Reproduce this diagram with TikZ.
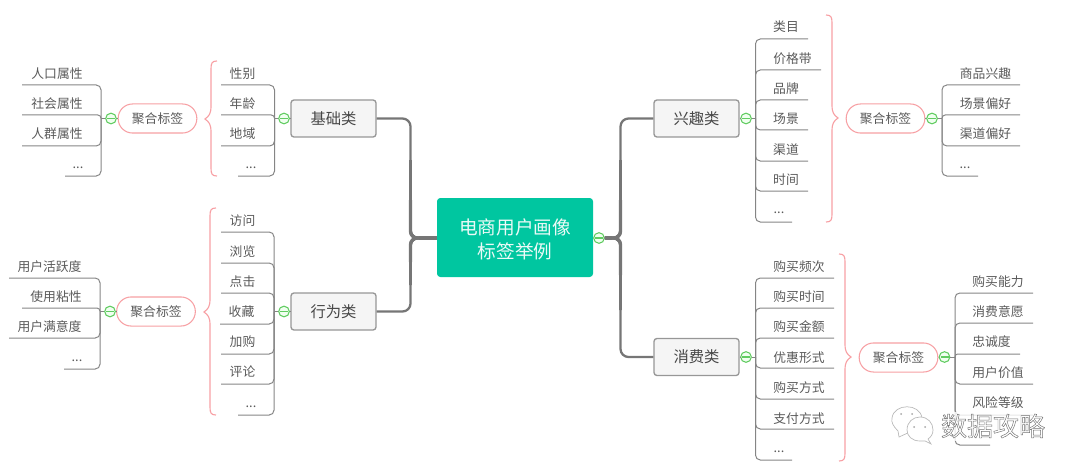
\documentclass[tikz,border=0pt]{standalone}
\usepackage{fontspec}
\setmainfont{Noto Sans CJK SC}
\usetikzlibrary{calc}
\definecolor{txt}{HTML}{5A5A5A}
\definecolor{lin}{HTML}{858585}
\definecolor{trunkc}{HTML}{767676}
\definecolor{pinkc}{HTML}{F7A0A4}
\definecolor{greenc}{HTML}{62CC62}
\definecolor{rootc}{RGB}{0,198,160}
\newcommand{\ddd}{...}
\tikzset{
  x=0.75pt,y=-0.75pt,
  leaftext/.style={text=txt,font=\fontsize{9.6pt}{11pt}\selectfont,inner sep=0pt},
  catbox/.style={draw=lin!85,line width=1pt,fill=black!4,rounded corners=2.2pt,minimum width=63.75pt,minimum height=27.75pt,inner sep=0pt,text=black!72,font=\fontsize{11.5pt}{13pt}\selectfont},
  pill/.style={draw=pinkc,line width=0.8pt,fill=white,rounded corners=10.8pt,minimum width=59pt,minimum height=21.8pt,inner sep=0pt,text=txt,font=\fontsize{9.6pt}{11pt}\selectfont},
  fold/.style={circle,draw=greenc,line width=0.8pt,fill=green!6,minimum size=8pt,inner sep=0pt,
    path picture={\draw[greenc,line width=0.9pt] ([xshift=1pt]path picture bounding box.west) -- ([xshift=-1pt]path picture bounding box.east);}},
  leafline/.style={draw=lin,line width=0.75pt},
  trunk/.style={draw=trunkc,line width=1.7pt,rounded corners=6pt},
  mid trunk/.style={draw=trunkc,line width=2.1pt,rounded corners=5.5pt},
  thick trunk/.style={draw=trunkc,line width=2.5pt,rounded corners=5pt},
  stub/.style={draw=trunkc,line width=3.2pt},
  bracec/.style={draw=pinkc,line width=0.85pt},
}
% \leafset{prefix}{vertical x}{junction y}{list of  y/endx/textx/texty/text}
\newcommand{\leafset}[4]{%
  \coordinate (#1v) at (#2,#3);
  \draw[leafline] (#1f) -- (#1v);
  \foreach \ly/\lx/\tx/\ty/\lab [count=\i] in {#4} {
    \coordinate (#1e\i) at (\lx,\ly);
    \node[leaftext] (#1t\i) at (\tx,\ty) {\lab};
    \pgfmathsetmacro{\rr}{min(3.6,abs(\ly-#3)*0.68)}
    \draw[leafline,rounded corners=\rr pt] (#1v) |- (#1e\i);
  }%
}
\newcommand{\bracecurve}[5]{%
  \draw[bracec] (#1+#2*6,#3) .. controls (#1+#2*1,#3) and (#1,#3+2) .. (#1,#3+8)
    -- (#1,#4-13) .. controls (#1,#4-5) and (#1-#2*2,#4-3) .. (#1-#2*6,#4)
    .. controls (#1-#2*2,#4+3) and (#1,#4+5) .. (#1,#4+13)
    -- (#1,#5-8) .. controls (#1,#5-2) and (#1+#2*1,#5) .. (#1+#2*6,#5);
}
\begin{document}
\begin{tikzpicture}
\useasboundingbox (0,0) rectangle (1080,474);
% categories
\node[catbox] (basic) at (333.5,118.5) {基础类};
\node[catbox] (behav) at (333.5,311.5) {行为类};
\node[catbox] (inter) at (696.5,118.5) {兴趣类};
\node[catbox] (cons) at (696.5,357) {消费类};
% centre
\node[rounded corners=2.5pt,fill=rootc,minimum width=117pt,minimum height=59.25pt,inner sep=0pt] (root) at (515,237.5) {};
\node[inner sep=0pt,text=white!92!rootc,font=\fontsize{14pt}{18pt}\selectfont,align=center] (rootlabel) at (515,239.5) {电商用户画像\\标签举例};
\node[fold] (rootf) at (599,238) {};
\coordinate (tl) at (410.5,238);
\coordinate (tr) at (620.5,238);
\coordinate (tlstub) at (419,238);
\coordinate (trstub) at (612,238);
\draw[trunk] (root.west |- tl) -- (tl) -- (tl |- basic.east) -- (basic.east);
\draw[trunk] (root.west |- tl) -- (tl) -- (tl |- behav.east) -- (behav.east);
\draw[trunk] (rootf) -- (tr) -- (tr |- inter.west) -- (inter.west);
\draw[trunk] (rootf) -- (tr) -- (tr |- cons.west) -- (cons.west);
\draw[mid trunk] (root.west |- tl) -- (tl) -- (410.5,160);
\draw[mid trunk] (root.west |- tl) -- (tl) -- (410.5,285);
\draw[mid trunk] (rootf) -- (tr) -- (620.5,160);
\draw[mid trunk] (rootf) -- (tr) -- (620.5,310);
\draw[thick trunk] (root.west |- tl) -- (tl) -- (410.5,200);
\draw[thick trunk] (root.west |- tl) -- (tl) -- (410.5,262);
\draw[thick trunk] (rootf) -- (tr) -- (620.5,200);
\draw[thick trunk] (rootf) -- (tr) -- (620.5,275);
\draw[stub] (root.west |- tl) -- (tlstub);
\draw[stub] (rootf) -- (trstub);
% fold circles
\node[fold] (af) at (111,118.5) {};
\node[fold] (bf) at (284,118.5) {};
\node[fold] (cf) at (110,311.5) {};
\node[fold] (df) at (284,311.5) {};
\node[fold] (ef) at (746,118.5) {};
\node[fold] (ff) at (932,118.5) {};
\node[fold] (gf) at (746,357) {};
\node[fold] (hf) at (944.5,357) {};
% pills
\node[pill] (pa) at (157.5,118.5) {聚合标签};
\node[pill] (pc) at (156,311.5) {聚合标签};
\node[pill] (pf) at (885.5,118.5) {聚合标签};
\node[pill] (ph) at (898.5,357.5) {聚合标签};
\draw[leafline] (basic.west) -- (bf);
\draw[leafline] (behav.west) -- (df);
\draw[leafline] (inter.east) -- (ef);
\draw[leafline] (cons.east) -- (gf);
\draw[leafline] (pa.west) -- (af);
\draw[leafline] (pc.west) -- (cf);
\draw[leafline] (pf.east) -- (ff);
\draw[leafline] (ph.east) -- (hf);
% leaves
\leafset{a}{101}{118.5}{85/22/57/73.5/人口属性,115/22/57/103.5/社会属性,146/22/57/134/人群属性,176/65/78/168/\ddd}
\leafset{b}{274.5}{118.5}{85/221/242.5/73.5/性别,115/221/242.5/103.5/年龄,146/221/242.5/134/地域,176/238/251/168/\ddd}
\leafset{c}{100}{311.5}{278/9/49.5/267/用户活跃度,308/22/56/297/使用粘性,338/9/49.5/327/用户满意度,369/64/77/361/\ddd}
\leafset{d}{274}{311.5}{232/221/242.5/221/访问,263/221/242.5/252/浏览,293/221/242.5/282/点击,324/220/241.5/312/收藏,354/221/242.5/342/加购,384/221/242.5/372/评论,415/238/251/407/\ddd}
\leafset{e}{755.5}{118.5}{39/808/786/27/类目,70/821/792.5/58.5/价格带,100/808/786/88.5/品牌,130/808/786/119/场景,161/808/786/149.5/渠道,191/808/786/180/时间,222/792/779/213/\ddd}
\leafset{f}{942}{118.5}{85/1020/985.5/73.5/商品兴趣,115/1020/985.5/103.5/场景偏好,146/1020/985.5/134/渠道偏好,176/978/965/168/\ddd}
\leafset{g}{755.5}{357}{278/834/799/266.5/购买频次,308/834/799/297/购买时间,338/834/799/327/购买金额,368/834/799/357.5/优惠形式,399/834/799/388/购买方式,429/834/799/418.5/支付方式,460/792/779/452/\ddd}
\leafset{h}{955}{357}{293/1033/998/281.5/购买能力,323/1033/998/311.5/消费意愿,354/1020/991.5/342/忠诚度,384/1033/998/372.5/用户价值,415/1033/998/402.5/风险等级,445/990/972/436/{}}
% braces
\bracecurve{211}{1}{61}{119}{176}
\bracecurve{210}{1}{208}{312}{415}
\bracecurve{832}{-1}{15}{118}{222}
\bracecurve{845}{-1}{254}{357}{461}
% watermark
\fill[white,opacity=0.8] (940,412) rectangle (1047,441);
\begin{scope}[draw=black!28,fill=white,line width=0.5pt]
  \filldraw (898,431) .. controls (893,426) and (891,422) .. (892,418) .. controls (894,403) and (920,403) .. (922,418) .. controls (922,424) and (918,429) .. (910,432) -- (899,437) -- cycle;
  \filldraw (920,441) .. controls (912,441) and (907,436) .. (907,430) .. controls (907,422) and (913,417) .. (920,417) .. controls (928,417) and (933,423) .. (933,430) .. controls (933,434) and (931,437) .. (928,439) -- (931,444) -- (925,441) -- cycle;
  \fill[black!35] (901,414) circle (1) (912,414) circle (1) (914,427) circle (1) (925,427) circle (1);
\end{scope}
\node[inner sep=0pt,text=black!55,font=\fontsize{19.5pt}{22pt}\selectfont] (mark) at (993,426) {\special{pdf:code q 1 Tr 0.35 w}数据攻略\special{pdf:code 0 Tr Q}};
\end{tikzpicture}
\end{document}
